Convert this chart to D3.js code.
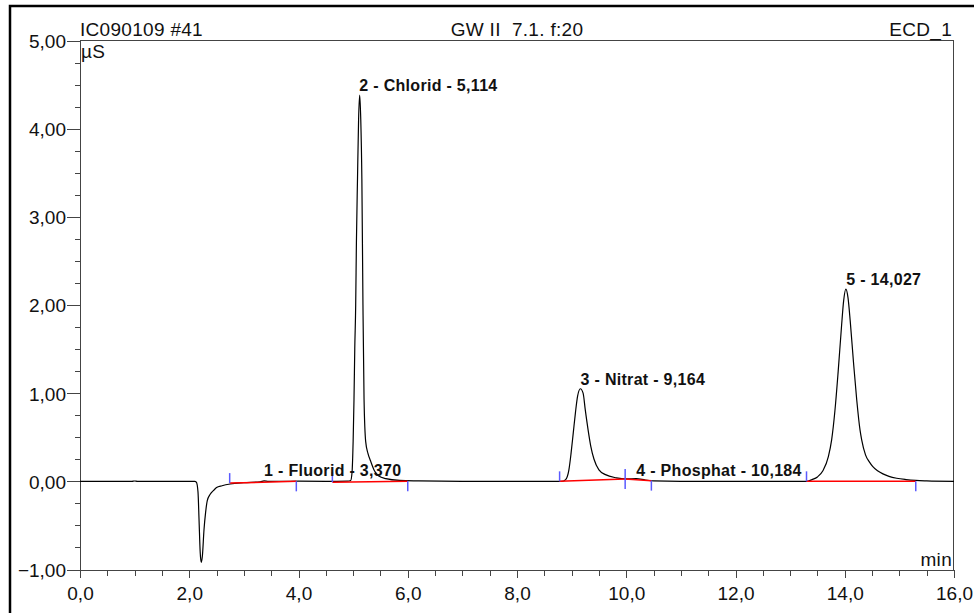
<!DOCTYPE html>
<html lang="de">
<head>
    <meta charset="UTF-8">
    <title>IC090109 #41 - ECD_1</title>
    <script src="https://d3js.org/d3.v7.min.js"></script>
    <style>
        * { margin: 0; padding: 0; box-sizing: border-box; }
        html, body { width: 974px; height: 613px; background: #fff; overflow: hidden; }
        svg { display: block; font-family: "Liberation Sans", Arial, sans-serif; }
        .axis path, .axis line { stroke: #444; shape-rendering: crispEdges; }
        .axis text { font-size: 19px; fill: #111; }
        .header { font-size: 19px; letter-spacing: 0.3px; fill: #111; white-space: pre; }
        .peak-label { font-size: 16px; font-weight: bold; letter-spacing: 0.3px; fill: #111; }
    </style>
</head>
<body>
    <svg id="chart" width="974" height="613"></svg>
    <script>
        // header texts
        const sampleName = "IC090109 #41";
        const programName = "GW II  7.1. f:20";
        const channelName = "ECD_1";
        const yUnit = "µS";
        const xUnit = "min";

        // axis ticks
        const xTicks = [0, 2, 4, 6, 8, 10, 12, 14, 16];
        const yTicks = [-1, 0, 1, 2, 3, 4, 5];

        // chromatogram trace (min, µS)
        const traceTime = [
            0.0, 0.95, 1.0, 1.05, 2.10, 2.13, 2.16, 2.18, 2.20, 2.22, 2.24, 2.27, 2.30, 2.33, 2.38,
            2.45, 2.50, 2.60, 2.75, 3.00, 3.30, 3.37, 3.45, 3.70, 4.00, 4.50, 4.90, 4.955, 4.98, 5.00,
            5.016, 5.03, 5.047, 5.06, 5.08, 5.10, 5.12, 5.14, 5.16, 5.18, 5.20, 5.23, 5.27, 5.32, 5.39,
            5.47, 5.60, 5.85, 6.20, 7.00, 8.00, 8.82, 8.89, 8.95, 8.99, 9.03, 9.07, 9.11, 9.16, 9.21,
            9.25, 9.30, 9.35, 9.41, 9.50, 9.62, 9.82, 10.00, 10.18, 10.35, 10.50, 11.00, 13.30, 13.40, 13.50,
            13.60, 13.70, 13.76, 13.82, 13.88, 13.94, 13.98, 14.02, 14.06, 14.10, 14.16, 14.22, 14.28, 14.31, 14.38,
            14.45, 14.51, 14.60, 14.70, 14.81, 14.95, 15.12, 15.30, 15.50, 16.00
        ];
        const traceValue = [
            0.0, 0.0, 0.004, 0.0, 0.0, -0.01, -0.12, -0.45, -0.80, -0.92, -0.85, -0.55, -0.35, -0.22, -0.15,
            -0.10, -0.07, -0.05, -0.03, -0.015, -0.005, 0.005, 0.0, 0.0, 0.002, 0.0, 0.003, 0.01, 0.10, 0.45,
            0.93, 1.50, 2.00, 2.70, 3.43, 4.10, 4.38, 4.10, 3.43, 2.00, 0.93, 0.45, 0.32, 0.23, 0.12,
            0.06, 0.03, 0.01, 0.005, 0.0, 0.0, 0.0, 0.02, 0.13, 0.32, 0.55, 0.78, 0.97, 1.05, 1.00,
            0.81, 0.59, 0.40, 0.25, 0.13, 0.076, 0.04, 0.027, 0.03, 0.015, 0.005, 0.0, 0.0, 0.02, 0.05,
            0.12, 0.28, 0.47, 0.80, 1.25, 1.75, 2.05, 2.18, 2.08, 1.82, 1.35, 0.92, 0.58, 0.47, 0.30,
            0.22, 0.17, 0.12, 0.085, 0.057, 0.035, 0.02, 0.01, 0.005, 0.0
        ];

        // peak table
        const peakNumbers = [1, 2, 3, 4, 5];
        const peakNames = ["Fluorid", "Chlorid", "Nitrat", "Phosphat", ""];
        const peakTimes = [3.370, 5.114, 9.164, 10.184, 14.027];
        const peakHeights = [0.01, 4.38, 1.05, 0.02, 2.18];

        // integration baselines: start/end time and value
        const baseStart = [2.74, 4.62, 8.78, 9.98, 13.30];
        const baseEnd = [3.96, 6.00, 9.98, 10.46, 15.30];
        const baseStartValue = [-0.02, -0.01, 0.0, 0.027, 0.0];
        const baseEndValue = [0.0, 0.0, 0.027, 0.008, 0.0];

        const de = d3.formatLocale({ decimal: ",", thousands: ".", grouping: [3], currency: ["", "€"] });

        const svg = d3.select("#chart");

        const x = d3.scaleLinear().domain([0, 16]).range([80, 954]);
        const y = d3.scaleLinear().domain([-1, 5]).range([569.5, 40.5]);

        // outer frame
        svg.append("rect")
            .attr("x", 10).attr("y", 6)
            .attr("width", 1100).attr("height", 800)
            .attr("fill", "none").attr("stroke", "#000").attr("stroke-width", 2.5);

        // plot box top / right
        svg.append("path")
            .attr("d", `M${x(0)},${y(5)}H${x(16) - 1}V${y(-1)}`)
            .attr("fill", "none").attr("stroke", "#444")
            .attr("shape-rendering", "crispEdges");

        // minor ticks
        svg.append("g").attr("class", "axis")
            .attr("transform", `translate(${x(0)},0)`)
            .call(d3.axisLeft(y).tickValues(d3.range(-1, 5.001, 0.25)).tickSize(5).tickFormat(""));
        svg.append("g").attr("class", "axis")
            .attr("transform", `translate(0,${y(-1)})`)
            .call(d3.axisBottom(x).tickValues(d3.range(0, 16.001, 0.5)).tickSize(6).tickFormat(""));

        // major ticks + labels
        const yAxis = svg.append("g").attr("class", "axis")
            .attr("transform", `translate(${x(0)},0)`)
            .call(d3.axisLeft(y).tickValues(yTicks).tickSize(13).tickSizeOuter(0).tickPadding(1)
                .tickFormat(de.format(".2f")));
        yAxis.selectAll("text").attr("dy", "0.36em");

        svg.append("g").attr("class", "axis")
            .attr("transform", `translate(0,${y(-1)})`)
            .call(d3.axisBottom(x).tickValues(xTicks).tickSize(8).tickSizeOuter(0).tickPadding(9)
                .tickFormat(de.format(".1f")));

        svg.selectAll(".axis .domain").attr("stroke", "#444");
        svg.selectAll(".axis text").attr("font-family", null);

        // header
        svg.append("text").attr("class", "header")
            .attr("x", x(0)).attr("y", 36).text(sampleName);
        svg.append("text").attr("class", "header")
            .attr("x", (x(0) + x(16)) / 2).attr("y", 36).attr("text-anchor", "middle").text(programName);
        svg.append("text").attr("class", "header")
            .attr("x", x(16) - 2).attr("y", 36).attr("text-anchor", "end").text(channelName);
        svg.append("text").attr("class", "header")
            .attr("x", x(0) + 1).attr("y", 58).text(yUnit);
        svg.append("text").attr("class", "header")
            .attr("x", x(16) - 2).attr("y", 566).attr("text-anchor", "end").text(xUnit);

        // trace
        const trace = traceTime.map((t, i) => [t, traceValue[i]]);
        const line = d3.line().x(d => x(d[0])).y(d => y(d[1])).curve(d3.curveMonotoneX);

        svg.append("path")
            .datum(trace)
            .attr("d", line)
            .attr("fill", "none")
            .attr("stroke", "#000")
            .attr("stroke-width", 1.2);

        // integration baselines
        const bases = baseStart.map((s, i) => ({ s, e: baseEnd[i], vs: baseStartValue[i], ve: baseEndValue[i] }));

        svg.selectAll(".base")
            .data(bases)
            .join("line")
            .attr("class", "base")
            .attr("x1", d => x(d.s)).attr("y1", d => y(d.vs))
            .attr("x2", d => x(d.e)).attr("y2", d => y(d.ve))
            .attr("stroke", "#f00").attr("stroke-width", 1.5);

        svg.selectAll(".mark-start")
            .data(bases)
            .join("line")
            .attr("class", "mark-start")
            .attr("x1", d => x(d.s)).attr("x2", d => x(d.s))
            .attr("y1", d => y(d.vs) - 10).attr("y2", d => y(d.vs))
            .attr("stroke", "#5a5aff").attr("stroke-width", 1.5);

        svg.selectAll(".mark-end")
            .data(bases)
            .join("line")
            .attr("class", "mark-end")
            .attr("x1", d => x(d.e)).attr("x2", d => x(d.e))
            .attr("y1", d => y(d.ve)).attr("y2", d => y(d.ve) + 10)
            .attr("stroke", "#5a5aff").attr("stroke-width", 1.5);

        // peak labels
        const fmt3 = de.format(".3f");
        svg.selectAll(".peak-label")
            .data(peakNumbers)
            .join("text")
            .attr("class", "peak-label")
            .attr("x", (d, i) => x(peakTimes[i]))
            .attr("y", (d, i) => y(peakHeights[i]) - 4)
            .text((d, i) => peakNames[i] ? `${d} - ${peakNames[i]} - ${fmt3(peakTimes[i])}` : `${d} - ${fmt3(peakTimes[i])}`);
    </script>
</body>
</html>
